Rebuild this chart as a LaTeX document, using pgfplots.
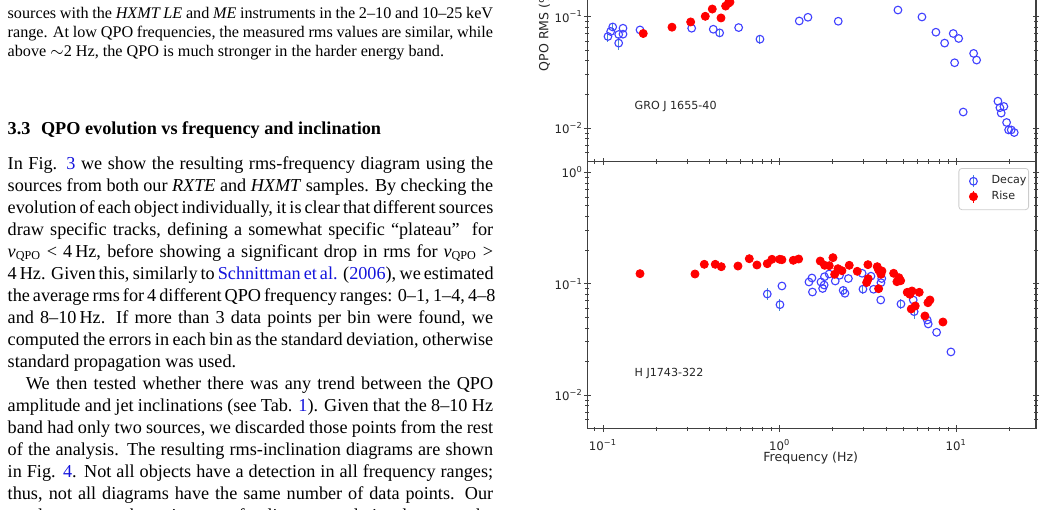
\documentclass[border=0pt]{standalone}
\usepackage{pgfplots}
\pgfplotsset{compat=1.18}
\usepackage{pgfplotstable}
\usepackage{fontspec}
\setmainfont{Liberation Serif}
\newfontfamily\chartfont{DejaVu Sans}
\definecolor{link}{RGB}{20,20,220}
\definecolor{dblue}{RGB}{64,64,255}
\definecolor{ebar}{RGB}{70,140,210}
\definecolor{spine}{RGB}{64,64,64}
\def\U{0.4944pt}

% one justified line of the column, and one set at natural width
\newcommand\jline[2]{\node[anchor=base west,inner sep=0pt] at ({7.3*\U},{(510-#1)*\U}) {\hbox to 240pt{#2}};}
\newcommand\nline[2]{\node[anchor=base west,inner sep=0pt] at ({7.3*\U},{(510-#1)*\U}) {#2};}
\newcommand\nuqpo{\textit{ν}\textsubscript{QPO}}

% QPO rms against frequency, GRO J1655-40
\pgfplotstableread{
f r e
0.1067 0.0663 0.007
0.1105 0.0735 0
0.1135 0.0807 0.006
0.1227 0.0691 0
0.1227 0.0578 0.008
0.1298 0.0786 0
0.1298 0.0695 0
0.1620 0.0759 0
0.3177 0.0786 0
0.4209 0.0770 0
0.4575 0.0714 0.005
0.5860 0.0797 0
0.7737 0.0627 0.006
1.291 0.0913 0
1.446 0.0986 0
2.146 0.0908 0
4.672 0.1145 0
6.389 0.0992 0
7.665 0.0724 0
8.587 0.0578 0
9.605 0.0705 0
10.31 0.0636 0
9.781 0.0385 0
12.53 0.0467 0
13.03 0.0407 0
10.94 0.0139 0
17.20 0.0174 0
17.65 0.0152 0
18.59 0.0156 0
17.95 0.0136 0
19.26 0.0112 0
19.77 0.0096 0
20.45 0.0096 0
21.27 0.0091 0
}\topdecay
\pgfplotstableread{
f r
0.1690 0.0705
0.2458 0.0803
0.3135 0.0895
0.3793 0.1006
0.4155 0.1169
0.4655 0.0972
0.4946 0.1243
0.5117 0.1314
0.5232 0.1350
}\toprise
% QPO rms against frequency, H J1743-322
\pgfplotstableread{
f r e
0.851 0.0808 0.010
1.030 0.0954 0
1.004 0.0648 0.008
1.465 0.1036 0
1.533 0.0842 0
1.523 0.1125 0
1.713 0.1036 0
1.751 0.0906 0
1.793 0.1155 0
1.786 0.0973 0
1.906 0.1222 0
2.064 0.1057 0
2.183 0.1190 0
2.288 0.0871 0.008
2.342 0.0820 0
2.450 0.1113 0
2.930 0.1240 0
2.961 0.0893 0.009
3.287 0.1168 0
3.400 0.0891 0
3.783 0.1113 0
3.744 0.1021 0
3.734 0.0714 0
4.859 0.0657 0.007
5.703 0.0714 0
5.770 0.0561 0.008
6.845 0.0472 0
6.934 0.0435 0
7.735 0.0366 0
9.320 0.0244 0
}\botdecay
\pgfplotstableread{
f r
0.1620 0.1230
0.3317 0.1222
0.3744 0.1493
0.4319 0.1493
0.4672 0.1421
0.5808 0.1441
0.6730 0.1676
0.7437 0.1472
0.8510 0.1512
0.9045 0.1656
1.000 0.1656
1.030 0.1642
1.194 0.1622
1.281 0.1666
1.697 0.1598
1.797 0.1463
1.909 0.1451
2.003 0.1712
2.048 0.1215
2.138 0.1363
2.252 0.1308
2.477 0.1463
2.749 0.1292
3.160 0.1482
3.172 0.1109
3.107 0.1025
3.567 0.1421
3.633 0.1327
3.793 0.1300
3.744 0.1215
3.633 0.0902
4.418 0.1240
4.734 0.1132
4.611 0.1042
4.839 0.1064
5.274 0.0837
5.607 0.0860
5.463 0.0803
6.166 0.0837
5.556 0.0593
5.853 0.0631
6.908 0.0675
7.090 0.0714
6.643 0.0513
8.400 0.0453
}\botrise

\begin{document}
\begin{tikzpicture}
\path[use as bounding box] (0,0) rectangle ({1044*\U},{510*\U});
\clip (0,0) rectangle ({1044*\U},{510*\U});

% text column
\begin{scope}[font=\fontsize{8}{9.5}\selectfont]
\jline{18.5}{sources with the \textit{HXMT LE} and \textit{ME} instruments in the 2–10 and 10–25 keV}
\jline{37.8}{range. At low QPO frequencies, the measured rms values are similar, while}
\nline{57}{above $\sim$2 Hz, the QPO is much stronger in the harder energy band.}
\end{scope}
\begin{scope}[font=\fontsize{9}{11}\selectfont]
\nline{135}{\textbf{3.3\hspace{3pt} QPO evolution vs frequency and inclination}}
\jline{169.3}{In Fig. {\color{link}3} we show the resulting rms-frequency diagram using the}
\jline{191.3}{sources from both our \textit{RXTE} and \textit{HXMT} samples. By checking the}
\jline{213.3}{evolution of each object individually, it is clear that different sources}
\jline{235.3}{draw specific tracks, defining a somewhat specific ``plateau''\ \ for}
\jline{257.3}{\nuqpo{} < 4\,Hz, before showing a significant drop in rms for \nuqpo{} >}
\jline{279.3}{4\,Hz. Given this, similarly to {\color{link}Schnittman et al.} ({\color{link}2006}), we estimated}
\jline{301.3}{the average rms for 4 different QPO frequency ranges: 0–1, 1–4, 4–8}
\jline{323.3}{and 8–10\,Hz. If more than 3 data points per bin were found, we}
\jline{345.3}{computed the errors in each bin as the standard deviation, otherwise}
\nline{367.3}{standard propagation was used.}
\jline{389.3}{\hspace{9pt}We then tested whether there was any trend between the QPO}
\jline{411.3}{amplitude and jet inclinations (see Tab. {\color{link}1}). Given that the 8–10 Hz}
\jline{433.3}{band had only two sources, we discarded those points from the rest}
\jline{455.3}{of the analysis. The resulting rms-inclination diagrams are shown}
\jline{477.3}{in Fig. {\color{link}4}. Not all objects have a detection in all frequency ranges;}
\jline{499.3}{thus, not all diagrams have the same number of data points. Our}
\jline{521.3}{results suggest the existence of a linear correlation between the}
\end{scope}

% upper panel
\begin{axis}[
    at={(290.36pt,172.3pt)}, anchor=south west,
    xmode=log, ymode=log, scale only axis,
    width=221.84pt, height=132.05pt,
    xmin=0.0815, xmax=28.25, ymin=0.005, ymax=1.25,
    xtick={0.1,1,10}, ytick={0.01,0.1,1},
    minor xtick={0.09,0.2,0.3,0.4,0.5,0.6,0.7,0.8,0.9,2,3,4,5,6,7,8,9,20},
    minor ytick={0.006,0.007,0.008,0.009,0.02,0.03,0.04,0.05,0.06,0.07,0.08,0.09,0.2,0.3,0.4,0.5,0.6,0.7,0.8,0.9},
    xticklabels={},
    yticklabels={10\textsuperscript{−2},10\textsuperscript{−1},10\textsuperscript{0}},
    tick align=center, major tick length=3.4pt, minor tick length=2pt,
    axis line style={spine, line width=0.5pt},
    tick style={spine, line width=0.45pt},
    tick label style={font=\chartfont\fontsize{5.8}{6.5}\selectfont, text=black!85},
    yticklabel style={xshift=3pt},
]
\addplot[only marks, mark=o, mark size=1.9pt, color=dblue, line width=0.55pt,
    error bars/y dir=both, error bars/y explicit, error bars/error mark=none,
    error bars/error bar style={color=ebar, line width=0.5pt}]
    table[x=f, y=r, y error=e] {\topdecay};
\addplot[only marks, mark=*, mark size=2pt, color=red]
    table[x=f, y=r] {\toprise};
\node[anchor=base west, inner sep=0pt, font=\chartfont\fontsize{5.5}{6.5}\selectfont, text=black!85] at (axis cs:0.1503,0.0147) {GRO J 1655-40};
\end{axis}

% lower panel
\begin{axis}[
    at={(290.36pt,40.24pt)}, anchor=south west,
    xmode=log, ymode=log, scale only axis,
    width=221.84pt, height=132.05pt,
    xmin=0.0815, xmax=28.25, ymin=0.005, ymax=1.25,
    xtick={0.1,1,10}, ytick={0.01,0.1,1},
    minor xtick={0.09,0.2,0.3,0.4,0.5,0.6,0.7,0.8,0.9,2,3,4,5,6,7,8,9,20},
    minor ytick={0.006,0.007,0.008,0.009,0.02,0.03,0.04,0.05,0.06,0.07,0.08,0.09,0.2,0.3,0.4,0.5,0.6,0.7,0.8,0.9},
    xticklabels={10\textsuperscript{−1},10\textsuperscript{0},10\textsuperscript{1}},
    yticklabels={10\textsuperscript{−2},10\textsuperscript{−1},10\textsuperscript{0}},
    tick align=center, major tick length=3.4pt, minor tick length=2pt,
    axis line style={spine, line width=0.5pt},
    tick style={spine, line width=0.45pt},
    tick label style={font=\chartfont\fontsize{5.8}{6.5}\selectfont, text=black!85},
    yticklabel style={xshift=3pt},
    legend cell align=left,
    legend style={at={(0.9844,0.9757)}, anchor=north east,
      font=\chartfont\fontsize{5.5}{6.5}\selectfont, text=black!85,
      draw=black!20, rounded corners=1.5pt, fill=white,
      inner xsep=0pt, inner ysep=2.6pt, row sep=0pt, column sep=1.5pt,
      nodes={inner xsep=1pt, inner ysep=1pt}},
]
\addplot[only marks, mark=o, mark size=1.9pt, color=dblue, line width=0.55pt,
    error bars/y dir=both, error bars/y explicit, error bars/error mark=none,
    error bars/error bar style={color=ebar, line width=0.5pt},
    legend image code/.code={\path[draw=none, fill=none] (-7.2pt,0pt) -- (6.5pt,0pt);
      \draw[ebar, line width=0.5pt] (0pt,-3pt) -- (0pt,3pt);
      \draw[dblue, line width=0.55pt, mark size=1.9pt] plot[mark=o, only marks] coordinates {(0pt,0pt)};}]
    table[x=f, y=r, y error=e] {\botdecay};
\addlegendentry{Decay}
\addplot[only marks, mark=*, mark size=2pt, color=red,
    legend image code/.code={\path[draw=none, fill=none] (-7.2pt,0pt) -- (6.5pt,0pt);
      \draw[red, line width=0.5pt] (0pt,-3pt) -- (0pt,3pt);
      \draw[red, mark size=2pt] plot[mark=*, only marks] coordinates {(0pt,0pt)};}]
    table[x=f, y=r] {\botrise};
\addlegendentry{Rise}
\node[anchor=base west, inner sep=0pt, font=\chartfont\fontsize{5.5}{6.5}\selectfont, text=black!85] at (axis cs:0.1503,0.0147) {H J1743-322};
\end{axis}

% axis titles
\node[anchor=base, font=\chartfont\fontsize{6.2}{7}\selectfont, text=black!85] at ({810.7*\U},{(510-461.7)*\U}) {Frequency (Hz)};
\node[anchor=base, rotate=90, font=\chartfont\fontsize{6.2}{7}\selectfont, text=black!85] at ({548.3*\U},{(510-29)*\U}) {QPO RMS (\%)};
\end{tikzpicture}
\end{document}
